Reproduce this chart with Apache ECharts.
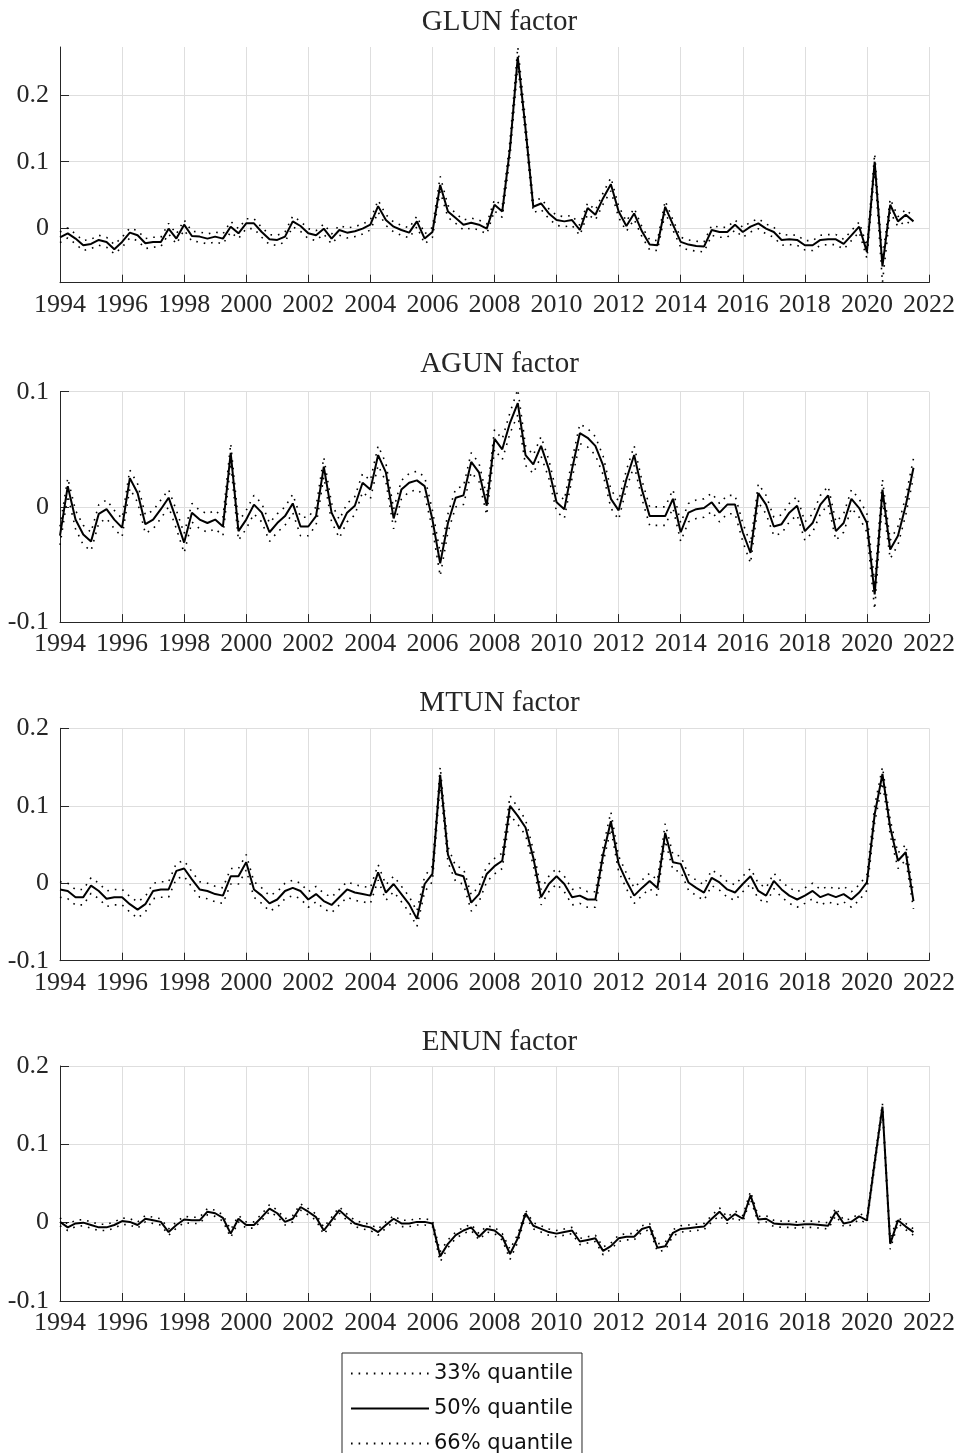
<!DOCTYPE html>
<html>
<head>
<meta charset="utf-8">
<script src="https://cdn.jsdelivr.net/npm/echarts@6/dist/echarts.min.js"></script>
<style>
  html, body { margin: 0; padding: 0; background: #fff; }
  #main { width: 960px; height: 1453px; }
</style>
</head>
<body>
<div id="main"></div>
<script>
// quarterly dates, 1994Q1 .. 2021Q3
const startYear = 1994
const quarterCount = 111
const quarters = Array.from({length: quarterCount}, (_, i) => startYear + i / 4)

const panelTitles = ['GLUN factor', 'AGUN factor', 'MTUN factor', 'ENUN factor']
const quantileNames = ['33% quantile', '50% quantile', '66% quantile']
const yLimits = [[-0.0825, 0.273], [-0.1, 0.1], [-0.1, 0.2], [-0.1, 0.2]]

// GLUN
const glun33 = [
  -0.022, -0.015, -0.024, -0.034, -0.031, -0.026, -0.029, -0.039,
  -0.029, -0.015, -0.019, -0.031, -0.029, -0.028, -0.009, -0.024,
  -0.003, -0.020, -0.021, -0.024, -0.021, -0.024, -0.006, -0.016,
  -0.001, -0.001, -0.014, -0.025, -0.026, -0.021, 0.002, -0.005,
  -0.016, -0.019, -0.009, -0.024, -0.011, -0.015, -0.013, -0.009,
  -0.003, 0.024, 0.004, -0.006, -0.011, -0.015, 0.002, -0.024,
  -0.014, 0.055, 0.016, 0.007, -0.003, 0.000, -0.003, -0.009,
  0.026, 0.016, 0.108, 0.245, 0.138, 0.023, 0.028, 0.014,
  0.004, 0.002, 0.004, -0.011, 0.021, 0.012, 0.036, 0.056,
  0.016, -0.005, 0.013, -0.013, -0.033, -0.034, 0.023, -0.003,
  -0.029, -0.033, -0.035, -0.036, -0.011, -0.014, -0.014, -0.003,
  -0.014, -0.006, -0.001, -0.009, -0.014, -0.026, -0.025, -0.026,
  -0.033, -0.034, -0.026, -0.025, -0.025, -0.032, -0.019, -0.006,
  -0.046, 0.088, -0.082, 0.024, 0.002, 0.011, 0.002
]
const glun50 = [
  -0.014, -0.008, -0.016, -0.026, -0.024, -0.018, -0.021, -0.032,
  -0.021, -0.007, -0.011, -0.023, -0.021, -0.021, -0.001, -0.016,
  0.005, -0.012, -0.013, -0.016, -0.013, -0.016, 0.002, -0.008,
  0.007, 0.007, -0.006, -0.017, -0.018, -0.013, 0.010, 0.003,
  -0.008, -0.011, -0.001, -0.016, -0.003, -0.007, -0.005, -0.001,
  0.005, 0.033, 0.012, 0.002, -0.003, -0.007, 0.010, -0.016,
  -0.006, 0.065, 0.025, 0.015, 0.005, 0.008, 0.005, -0.001,
  0.035, 0.025, 0.120, 0.258, 0.150, 0.032, 0.037, 0.022,
  0.012, 0.010, 0.012, -0.003, 0.030, 0.020, 0.045, 0.066,
  0.025, 0.003, 0.022, -0.005, -0.025, -0.026, 0.032, 0.005,
  -0.021, -0.025, -0.027, -0.028, -0.003, -0.006, -0.006, 0.005,
  -0.006, 0.002, 0.007, -0.001, -0.006, -0.018, -0.017, -0.018,
  -0.026, -0.026, -0.018, -0.017, -0.017, -0.024, -0.011, 0.002,
  -0.036, 0.100, -0.058, 0.035, 0.010, 0.020, 0.010
]
const glun66 = [
  -0.006, 0.000, -0.009, -0.019, -0.017, -0.011, -0.014, -0.025,
  -0.014, 0.000, -0.004, -0.016, -0.014, -0.014, 0.007, -0.009,
  0.012, -0.005, -0.006, -0.009, -0.006, -0.009, 0.010, -0.001,
  0.014, 0.014, 0.001, -0.010, -0.011, -0.006, 0.018, 0.010,
  -0.001, -0.004, 0.006, -0.009, 0.004, 0.000, 0.002, 0.006,
  0.012, 0.042, 0.020, 0.009, 0.004, 0.000, 0.018, -0.009,
  0.001, 0.078, 0.034, 0.022, 0.012, 0.015, 0.012, 0.006,
  0.043, 0.033, 0.132, 0.273, 0.162, 0.040, 0.045, 0.029,
  0.019, 0.017, 0.019, 0.004, 0.038, 0.027, 0.053, 0.076,
  0.033, 0.010, 0.030, 0.002, -0.018, -0.019, 0.041, 0.012,
  -0.014, -0.018, -0.020, -0.021, 0.004, 0.001, 0.001, 0.012,
  0.001, 0.009, 0.014, 0.006, 0.001, -0.011, -0.010, -0.011,
  -0.019, -0.019, -0.011, -0.010, -0.010, -0.017, -0.004, 0.009,
  -0.027, 0.112, -0.046, 0.044, 0.017, 0.028, 0.017
]

// AGUN
const agun33 = [
  -0.033, 0.010, -0.019, -0.033, -0.038, -0.014, -0.010, -0.019,
  -0.026, 0.016, 0.004, -0.023, -0.019, -0.010, 0.000, -0.019,
  -0.040, -0.013, -0.019, -0.022, -0.019, -0.025, 0.038, -0.029,
  -0.019, -0.006, -0.013, -0.030, -0.022, -0.016, -0.005, -0.025,
  -0.025, -0.016, 0.026, -0.013, -0.027, -0.013, -0.007, 0.013,
  0.007, 0.036, 0.022, -0.019, 0.007, 0.013, 0.015, 0.010,
  -0.019, -0.060, -0.022, 0.000, 0.002, 0.030, 0.022, -0.007,
  0.050, 0.041, 0.064, 0.080, 0.036, 0.029, 0.044, 0.025,
  -0.004, -0.010, 0.025, 0.055, 0.052, 0.045, 0.028, -0.001,
  -0.011, 0.016, 0.036, 0.007, -0.016, -0.016, -0.016, -0.001,
  -0.030, -0.013, -0.010, -0.009, -0.004, -0.013, -0.006, -0.006,
  -0.030, -0.049, 0.004, -0.006, -0.025, -0.023, -0.013, -0.007,
  -0.029, -0.022, -0.006, 0.002, -0.029, -0.022, -0.001, -0.009,
  -0.022, -0.089, 0.006, -0.045, -0.033, -0.007, 0.026
]
const agun50 = [
  -0.025, 0.018, -0.011, -0.024, -0.030, -0.006, -0.002, -0.011,
  -0.018, 0.025, 0.012, -0.015, -0.011, -0.002, 0.008, -0.011,
  -0.031, -0.005, -0.011, -0.014, -0.011, -0.017, 0.047, -0.021,
  -0.011, 0.002, -0.005, -0.022, -0.014, -0.008, 0.003, -0.017,
  -0.017, -0.008, 0.035, -0.005, -0.019, -0.005, 0.001, 0.021,
  0.015, 0.045, 0.030, -0.010, 0.015, 0.021, 0.023, 0.018,
  -0.011, -0.049, -0.014, 0.008, 0.010, 0.039, 0.030, 0.001,
  0.059, 0.050, 0.073, 0.090, 0.045, 0.037, 0.053, 0.033,
  0.004, -0.002, 0.033, 0.064, 0.060, 0.053, 0.036, 0.007,
  -0.003, 0.024, 0.045, 0.015, -0.008, -0.008, -0.008, 0.007,
  -0.022, -0.005, -0.002, -0.001, 0.004, -0.005, 0.002, 0.002,
  -0.022, -0.040, 0.012, 0.002, -0.017, -0.015, -0.005, 0.001,
  -0.021, -0.014, 0.002, 0.010, -0.021, -0.014, 0.007, -0.001,
  -0.014, -0.076, 0.015, -0.037, -0.025, 0.001, 0.034
]
const agun66 = [
  -0.017, 0.025, -0.003, -0.016, -0.022, 0.002, 0.006, -0.003,
  -0.010, 0.032, 0.020, -0.007, -0.003, 0.006, 0.015, -0.003,
  -0.023, 0.003, -0.003, -0.006, -0.003, -0.009, 0.055, -0.013,
  -0.003, 0.010, 0.003, -0.014, -0.006, 0.000, 0.011, -0.009,
  -0.009, 0.000, 0.043, 0.003, -0.011, 0.003, 0.009, 0.029,
  0.023, 0.053, 0.038, -0.002, 0.023, 0.029, 0.031, 0.026,
  -0.003, -0.040, -0.006, 0.016, 0.018, 0.047, 0.038, 0.009,
  0.067, 0.059, 0.082, 0.102, 0.053, 0.045, 0.061, 0.041,
  0.012, 0.006, 0.041, 0.072, 0.068, 0.061, 0.044, 0.015,
  0.005, 0.032, 0.053, 0.023, 0.000, 0.000, 0.000, 0.015,
  -0.014, 0.003, 0.006, 0.007, 0.012, 0.003, 0.010, 0.010,
  -0.014, -0.032, 0.020, 0.010, -0.009, -0.007, 0.003, 0.009,
  -0.013, -0.006, 0.010, 0.018, -0.013, -0.006, 0.015, 0.007,
  -0.006, -0.066, 0.024, -0.029, -0.017, 0.009, 0.042
]

// MTUN
const mtun33 = [
  -0.018, -0.020, -0.028, -0.028, -0.013, -0.020, -0.030, -0.028,
  -0.028, -0.037, -0.045, -0.037, -0.020, -0.018, -0.018, 0.006,
  0.009, -0.005, -0.018, -0.020, -0.024, -0.026, -0.001, -0.001,
  0.017, -0.018, -0.026, -0.036, -0.031, -0.020, -0.016, -0.020,
  -0.031, -0.024, -0.033, -0.038, -0.028, -0.018, -0.022, -0.024,
  -0.026, 0.004, -0.022, -0.011, -0.024, -0.037, -0.056, -0.011,
  0.002, 0.128, 0.027, 0.002, -0.001, -0.036, -0.024, 0.002,
  0.012, 0.019, 0.088, 0.076, 0.062, 0.023, -0.028, -0.011,
  -0.001, -0.011, -0.028, -0.026, -0.031, -0.031, 0.027, 0.070,
  0.015, -0.007, -0.026, -0.016, -0.007, -0.016, 0.055, 0.017,
  0.015, -0.009, -0.016, -0.022, -0.003, -0.009, -0.018, -0.022,
  -0.011, -0.001, -0.020, -0.026, -0.007, -0.018, -0.026, -0.031,
  -0.026, -0.020, -0.028, -0.024, -0.028, -0.024, -0.031, -0.022,
  -0.009, 0.078, 0.130, 0.062, 0.019, 0.030, -0.033
]
const mtun50 = [
  -0.008, -0.010, -0.018, -0.018, -0.003, -0.010, -0.020, -0.018,
  -0.018, -0.027, -0.034, -0.027, -0.010, -0.008, -0.008, 0.016,
  0.019, 0.005, -0.008, -0.010, -0.014, -0.016, 0.009, 0.009,
  0.027, -0.008, -0.016, -0.026, -0.021, -0.010, -0.006, -0.010,
  -0.021, -0.014, -0.023, -0.028, -0.018, -0.008, -0.012, -0.014,
  -0.016, 0.014, -0.012, -0.001, -0.014, -0.027, -0.046, -0.001,
  0.012, 0.140, 0.037, 0.012, 0.009, -0.025, -0.014, 0.012,
  0.022, 0.029, 0.100, 0.087, 0.072, 0.033, -0.018, -0.001,
  0.009, -0.001, -0.018, -0.016, -0.021, -0.021, 0.037, 0.080,
  0.025, 0.003, -0.016, -0.006, 0.003, -0.006, 0.065, 0.027,
  0.025, 0.001, -0.006, -0.012, 0.007, 0.001, -0.008, -0.012,
  -0.001, 0.009, -0.010, -0.016, 0.003, -0.008, -0.016, -0.021,
  -0.016, -0.010, -0.018, -0.014, -0.018, -0.014, -0.021, -0.012,
  0.001, 0.089, 0.141, 0.072, 0.029, 0.040, -0.023
]
const mtun66 = [
  0.002, 0.000, -0.008, -0.008, 0.007, 0.000, -0.010, -0.008,
  -0.008, -0.017, -0.024, -0.017, 0.000, 0.002, 0.002, 0.026,
  0.029, 0.015, 0.002, 0.000, -0.004, -0.006, 0.019, 0.019,
  0.037, 0.002, -0.006, -0.016, -0.011, 0.000, 0.004, 0.000,
  -0.011, -0.004, -0.013, -0.018, -0.008, 0.002, -0.002, -0.004,
  -0.006, 0.024, -0.002, 0.009, -0.004, -0.017, -0.036, 0.009,
  0.022, 0.150, 0.047, 0.022, 0.019, -0.015, -0.004, 0.022,
  0.032, 0.039, 0.113, 0.098, 0.082, 0.043, -0.008, 0.009,
  0.019, 0.009, -0.008, -0.006, -0.011, -0.011, 0.047, 0.092,
  0.035, 0.013, -0.006, 0.004, 0.013, 0.004, 0.077, 0.037,
  0.035, 0.011, 0.004, -0.002, 0.017, 0.011, 0.002, -0.002,
  0.009, 0.019, 0.000, -0.006, 0.013, 0.002, -0.006, -0.011,
  -0.006, 0.000, -0.008, -0.004, -0.008, -0.004, -0.011, -0.002,
  0.011, 0.100, 0.150, 0.082, 0.039, 0.050, -0.013
]

// ENUN
const enun33 = [
  -0.004, -0.010, -0.005, -0.004, -0.007, -0.010, -0.010, -0.007,
  -0.002, -0.003, -0.007, 0.001, -0.001, -0.003, -0.016, -0.007,
  0.000, -0.001, -0.001, 0.010, 0.008, 0.002, -0.019, 0.001,
  -0.007, -0.007, 0.003, 0.014, 0.008, -0.003, 0.001, 0.016,
  0.010, 0.003, -0.015, -0.001, 0.012, 0.003, -0.005, -0.008,
  -0.010, -0.016, -0.007, 0.001, -0.005, -0.005, -0.003, -0.003,
  -0.005, -0.050, -0.032, -0.020, -0.014, -0.010, -0.022, -0.012,
  -0.014, -0.022, -0.047, -0.025, 0.008, -0.008, -0.012, -0.016,
  -0.018, -0.016, -0.014, -0.028, -0.026, -0.024, -0.041, -0.034,
  -0.024, -0.022, -0.022, -0.012, -0.009, -0.037, -0.035, -0.017,
  -0.012, -0.011, -0.010, -0.009, 0.001, 0.009, -0.001, 0.007,
  0.001, 0.030, 0.000, 0.001, -0.005, -0.006, -0.006, -0.007,
  -0.006, -0.006, -0.007, -0.008, 0.009, -0.005, -0.003, 0.004,
  -0.001, 0.072, 0.144, -0.034, -0.001, -0.009, -0.016
]
const enun50 = [
  0.001, -0.006, -0.001, 0.000, -0.003, -0.006, -0.006, -0.003,
  0.002, 0.001, -0.003, 0.005, 0.003, 0.001, -0.012, -0.003,
  0.004, 0.003, 0.003, 0.014, 0.012, 0.006, -0.014, 0.005,
  -0.003, -0.003, 0.007, 0.018, 0.012, 0.001, 0.005, 0.020,
  0.014, 0.007, -0.010, 0.003, 0.016, 0.007, -0.001, -0.004,
  -0.006, -0.012, -0.003, 0.005, -0.001, -0.001, 0.001, 0.001,
  -0.001, -0.043, -0.027, -0.016, -0.010, -0.006, -0.018, -0.008,
  -0.010, -0.018, -0.040, -0.020, 0.012, -0.004, -0.008, -0.012,
  -0.014, -0.012, -0.010, -0.024, -0.022, -0.020, -0.036, -0.030,
  -0.020, -0.018, -0.018, -0.008, -0.005, -0.032, -0.030, -0.013,
  -0.008, -0.007, -0.006, -0.005, 0.005, 0.014, 0.003, 0.011,
  0.005, 0.035, 0.004, 0.005, -0.001, -0.002, -0.002, -0.003,
  -0.002, -0.002, -0.003, -0.004, 0.014, -0.001, 0.001, 0.008,
  0.003, 0.077, 0.148, -0.027, 0.003, -0.005, -0.012
]
const enun66 = [
  0.006, -0.002, 0.003, 0.004, 0.001, -0.002, -0.002, 0.001,
  0.006, 0.005, 0.001, 0.009, 0.007, 0.005, -0.008, 0.001,
  0.008, 0.007, 0.007, 0.018, 0.016, 0.010, -0.009, 0.009,
  0.001, 0.001, 0.011, 0.023, 0.016, 0.005, 0.009, 0.024,
  0.018, 0.011, -0.006, 0.007, 0.020, 0.011, 0.003, 0.000,
  -0.002, -0.008, 0.001, 0.009, 0.003, 0.003, 0.005, 0.005,
  0.003, -0.037, -0.022, -0.012, -0.006, -0.002, -0.014, -0.004,
  -0.006, -0.014, -0.034, -0.015, 0.016, 0.000, -0.004, -0.008,
  -0.010, -0.008, -0.006, -0.020, -0.018, -0.016, -0.031, -0.026,
  -0.016, -0.014, -0.014, -0.004, -0.001, -0.027, -0.025, -0.009,
  -0.004, -0.003, -0.002, -0.001, 0.009, 0.019, 0.007, 0.015,
  0.009, 0.040, 0.008, 0.009, 0.003, 0.002, 0.002, 0.001,
  0.002, 0.002, 0.001, 0.000, 0.019, 0.003, 0.005, 0.012,
  0.007, 0.082, 0.152, -0.020, 0.007, -0.001, -0.008
]

const panelData = [
  [glun33, glun50, glun66],
  [agun33, agun50, agun66],
  [mtun33, mtun50, mtun66],
  [enun33, enun50, enun66]
]

// layout of the four panels
const gridTops = [47, 391.7, 728.3, 1066]
const gridHeights = [235.7, 230.4, 232.4, 235]
const titleTops = [3, 345, 684, 1023]

const ink = '#262626'
const serif = 'Liberation Serif'

const main = document.getElementById('main')
const myChart = echarts.init(main, null, {renderer: 'canvas'})

const grids = []
const xAxes = []
const yAxes = []
const titles = []
const series = []

panelTitles.forEach((title, i) => {
  grids.push({
    left: 60,
    right: 31,
    top: gridTops[i],
    height: gridHeights[i],
    outerBoundsMode: 'none'
  })
  titles.push({
    text: title,
    left: 494.5,
    top: titleTops[i],
    textAlign: 'center',
    textStyle: {fontFamily: serif, fontSize: 29, fontWeight: 'normal', color: ink}
  })
  xAxes.push({
    gridIndex: i,
    type: 'value',
    min: 1994,
    max: 2022,
    interval: 2,
    axisLine: {show: true, onZero: false, lineStyle: {color: ink, width: 1}},
    axisTick: {show: true, inside: true, length: 8, lineStyle: {color: ink}},
    axisLabel: {
      formatter: (v) => String(v),
      fontFamily: serif,
      fontSize: 26,
      color: ink,
      margin: 9
    },
    splitLine: {show: true, lineStyle: {color: '#dedede', width: 1}}
  })
  const [yMin, yMax] = yLimits[i]
  const yAxis = {
    gridIndex: i,
    type: 'value',
    min: yMin,
    max: yMax,
    axisLine: {show: true, onZero: false, lineStyle: {color: ink, width: 1}},
    axisTick: {show: true, inside: true, length: 9, lineStyle: {color: ink}},
    axisLabel: {fontFamily: serif, fontSize: 26, color: ink, margin: 11},
    splitLine: {show: true, lineStyle: {color: '#dedede', width: 1}}
  }
  if (i === 0) {
    // tight limits: let ECharts pick the 0.1 steps between them
    yAxis.splitNumber = 3
    yAxis.axisLabel.showMinLabel = false
    yAxis.axisLabel.showMaxLabel = false
    yAxis.splitLine.showMinLine = false
    yAxis.splitLine.showMaxLine = false
  } else {
    yAxis.interval = 0.1
  }
  yAxes.push(yAxis)

  panelData[i].forEach((values, j) => {
    const isMedian = j === 1
    series.push({
      name: quantileNames[j],
      type: 'line',
      xAxisIndex: i,
      yAxisIndex: i,
      data: quarters.map((t, k) => [t, values[k]]),
      symbol: 'none',
      showSymbol: false,
      clip: false,
      animation: false,
      z: isMedian ? 3 : 2,
      itemStyle: {color: '#000'},
      lineStyle: isMedian
        ? {color: '#000', width: 2, type: 'solid'}
        : {color: '#000', width: 1.6, type: [1.6, 6]}
    })
  })
})

myChart.setOption({
  backgroundColor: '#fff',
  animation: false,
  title: titles,
  grid: grids,
  xAxis: xAxes,
  yAxis: yAxes,
  legend: {
    data: quantileNames,
    orient: 'vertical',
    left: 342,
    top: 1353,
    height: 140,
    itemWidth: 78,
    itemHeight: 20,
    itemGap: 14,
    padding: [10, 9, 12, 8],
    borderColor: ink,
    borderWidth: 1,
    borderRadius: 0,
    backgroundColor: '#fff',
    selectedMode: false,
    itemStyle: {opacity: 0},
    textStyle: {fontFamily: 'DejaVu Sans', fontSize: 21, color: '#111', lineHeight: 20}
  },
  series: series
})
</script>
</body>
</html>
